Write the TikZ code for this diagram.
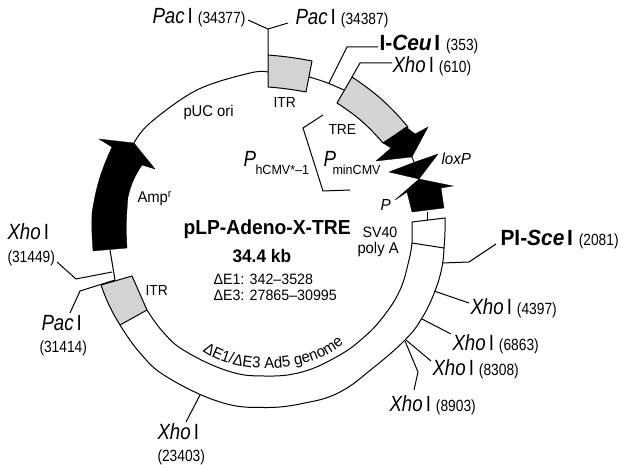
\documentclass[tikz,border=0pt]{standalone}
\usepackage{fontspec}
\setmainfont[FakeStretch=0.95]{Liberation Sans}
\newfontfamily\enzfam[FakeStretch=0.85]{Liberation Sans}
\usetikzlibrary{decorations.text}
\newcommand{\fs}[1]{\fontsize{#1}{#1}\selectfont}
\newcommand{\numtxt}[1]{{\enzfam\fs{16.2}(#1)}}
\newcommand{\site}[2]{\textit{#1}\hspace{3pt}I\hspace{5pt}\numtxt{#2}}
\newcommand{\boldsite}[3]{{\rmfamily\fs{22}\textbf{#1-\textit{#2}\hspace{2.6pt}I}}\hspace{6pt}\numtxt{#3}}
\begin{document}
\begin{tikzpicture}[
  x=1pt, y=-1pt,
  line width=1pt,
  lbl/.style={anchor=base west, inner sep=0pt, font=\fs{15.6}},
  sublbl/.style={anchor=base west, inner sep=0pt, font=\fs{13.2}},
  enz/.style={anchor=base west, inner sep=0pt, font=\enzfam\fs{22}},
  num/.style={anchor=base west, inner sep=0pt, font=\enzfam\fs{16.2}},
  title/.style={anchor=base west, inner sep=0pt, font=\fs{20.3}\bfseries},
  region/.style={draw=black, fill=itrgray, line join=round},
  solid black/.style={fill=black, draw=black, line width=0.3pt, line join=miter},
]
  \definecolor{itrgray}{HTML}{D1D3D4}
  \useasboundingbox (0,0) rectangle (621,465);

  % ---------------- backbone
  \draw (110,250) -- (115,280);
  \draw plot[smooth, tension=0.6] coordinates {(134,143) (150,123) (197,90) (250,73) (268,72)};
  \draw plot[smooth, tension=0.6] coordinates {(306,76) (325,82) (344,90)};

  % ---------------- genome band
  \draw plot[smooth, tension=0.7] coordinates {(147,310) (163,332) (185,351) (228,371) (264,376) (302,372) (338,356) (363,338) (383,317) (400,290) (409,260) (412,243)};
  \draw plot[smooth, tension=0.7] coordinates {(120,325) (140,353) (167,377) (220,402) (264,407.5) (305,403) (340,392) (373,368) (405,340) (422,318) (435,291) (442,267) (444,248)};

  % ---------------- grey regions
  \draw[region] (268,55) to[bend left=3] (312,61) -- (306,92) to[bend right=3] (268,87) -- cycle;
  \draw[region] (352,77) to[bend left=8] (408,127) -- (383,143) to[bend right=8] (337,103) -- cycle;
  \draw[region] (101,285) -- (132,276) -- (147,310) -- (120,325) to[bend left=6] cycle;

  % ---------------- SV40 box
  \draw (412,243) -- (412,222) -- (445,218) to[bend left=3] (444,248) -- cycle;
  \draw (427,212) -- (427,220);

  % ---------------- black arrows
  \fill[solid black] (406,127) -- (415,134) -- (428,127) -- (412,157) -- (376,161) -- (391,148) -- (383,143) -- cycle;
  \draw (412,157) -- (414,162);
  \fill[solid black] (438,154) -- (419,179) -- (389,172) -- (415,162) -- cycle;
  \fill[solid black] (419,179) -- (453,186) -- (441,188) -- (444,208) -- (412,212) -- (407,192) -- (395,200) -- cycle;
  \fill[solid black] (93,251) to[bend left=3] (92,213) to[bend left=8] (112,147) -- (99,139) -- (134,143) -- (155,169) -- (142,165) to[bend right=10] (128,197) to[bend right=4] (127,248) -- cycle;

  % ---------------- site leaders
  \draw (268,55) -- (268,29) -- (248,20);
  \draw (268,29) -- (288,23);
  \draw (329,83) -- (347,47) -- (378,47);
  \draw (352,77) -- (360,63) -- (392,63);
  \draw (323,115) -- (303,128) -- (323,191) -- (350,190);
  \draw (442,263) -- (469,262) -- (496,244);
  \draw (434,291) -- (469,303);
  \draw (422,319) -- (451,334);
  \draw (406,340) -- (431,361);
  \draw (405,341) -- (418,372) -- (414,390);
  \draw (200,395) -- (186,422);
  \draw (112,272) -- (76,279) -- (57,262);
  \draw (115,280) -- (80,291) -- (70,313);

  % ---------------- site labels
  \node[enz] (pac1) at (152,24) {\site{Pac}{34377}};
  \node[enz] (pac2) at (295,25) {\site{Pac}{34387}};
  \node[enz] (ceu) at (379,51) {\boldsite{I}{Ceu}{353}};
  \node[enz] (xho610) at (392,73) {\site{Xho}{610}};
  \node[enz] (sce) at (500,245) {\boldsite{PI}{Sce}{2081}};
  \node[enz] (xho4397) at (470,314) {\site{Xho}{4397}};
  \node[enz] (xho6863) at (452,350) {\site{Xho}{6863}};
  \node[enz] (xho8308) at (432,375) {\site{Xho}{8308}};
  \node[enz] (xho8903) at (389,411) {\site{Xho}{8903}};
  \node[enz] (xho23403) at (157,439) {\textit{Xho}\hspace{3pt}I};
  \node[num] (n23403) at (157,461) {(23403)};
  \node[enz] (xho31449) at (7,240) {\textit{Xho}\hspace{3pt}I};
  \node[num] (n31449) at (7,262) {(31449)};
  \node[enz] (pac3) at (41,330) {\textit{Pac}\hspace{3pt}I};
  \node[num] (n31414) at (39,352) {(31414)};

  % ---------------- feature labels
  \node[lbl, font=\fs{14.6}] (itr1) at (273,108) {ITR};
  \node[lbl, font=\fs{14.6}] (itr2) at (145,295) {ITR};
  \node[lbl] (ori) at (183,117) {pUC ori};
  \node[lbl] (amp) at (137,203) {Amp\textsuperscript{r}};
  \node[lbl, font=\fs{14.6}] (tre) at (328,135) {TRE};
  \node[enz] (pmin) at (323,167) {\textit{P}};
  \node[sublbl] (pminsub) at (332,175) {minCMV};
  \node[enz] (phcmv) at (243,167) {\textit{P}};
  \node[sublbl] (phcmvsub) at (255,175) {hCMV*--1};
  \node[lbl, font=\fs{16}\itshape] (lox) at (441,165) {loxP};
  \node[lbl, font=\fs{16}\itshape] (psv) at (380,211) {P};
  \node[lbl, font=\fs{15}] (sv40) at (362,237) {SV40};
  \node[lbl] (poly) at (357,253) {poly A};

  % ---------------- centre
  \node[title] (name) at (183,235) {pLP-Adeno-X-TRE};
  \node[title, font=\fs{18.2}\bfseries] (size) at (232,262) {34.4 kb};
  \node[lbl, font=\fs{15}] (e1) at (213,284) {ΔE1: 342--3528};
  \node[lbl, font=\fs{15}] (e3) at (213,300) {ΔE3: 27865--30995};
  \path[decorate, decoration={text along path, text align=center,
    text={|\fs{15.8}|ΔE1/ΔE3 Ad5 genome}}]
    (200,349) .. controls (235,376) and (310,376) .. (346,341);
\end{tikzpicture}
\end{document}
